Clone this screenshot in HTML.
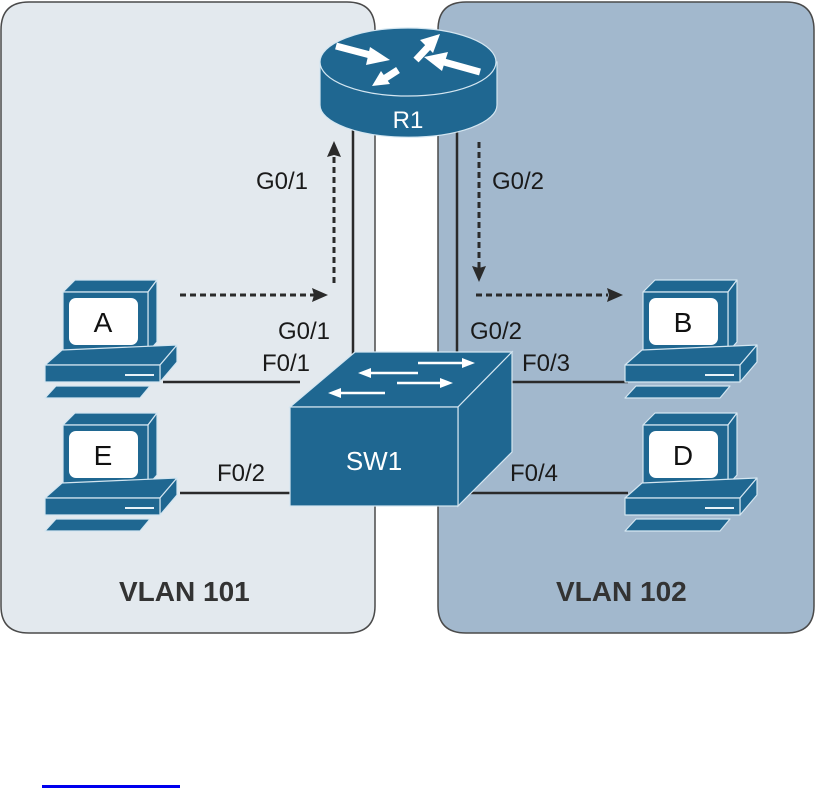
<!DOCTYPE html>
<html><head><meta charset="utf-8"><style>
html,body{margin:0;padding:0;background:#fff;}
svg{display:block;}
text{font-family:"Liberation Sans",sans-serif;}
</style></head><body>
<svg width="816" height="788" viewBox="0 0 816 788" xmlns="http://www.w3.org/2000/svg">
<defs>
<g id="pc" stroke="#d4e6f1" stroke-width="1.2" stroke-linejoin="round">
  <polygon points="63,292 75,280 157,280 148,292" fill="#1f6791"/>
  <polygon points="148,292 157,280 157,342 148,352" fill="#1f6791"/>
  <rect x="63" y="292" width="85" height="60" fill="#1f6791"/>
  <rect x="69" y="298" width="69" height="47" rx="7" fill="#fff" stroke="none"/>
  <polygon points="45,365 62,350 177,345 160,365" fill="#1f6791"/>
  <polygon points="160,365 177,345 177,362 160,382" fill="#1f6791"/>
  <rect x="45" y="365" width="115" height="17" fill="#1f6791"/>
  <line x1="125" y1="375" x2="154" y2="375" stroke="#e8f2f8" stroke-width="2"/>
  <polygon points="56,386 150,386 140,398 45,398" fill="#1f6791"/>
</g>
</defs>
<path d="M1,30 Q1,2 29,2 L347,2 Q375,2 375,30 L375,606 Q375,633 347,633 L29,633 Q1,633 1,606 Z" fill="#e3e9ee" stroke="#4a4a4a" stroke-width="1.5"/>
<path d="M438,30 Q438,2 466,2 L786,2 Q814,2 814,30 L814,606 Q814,633 786,633 L466,633 Q438,633 438,606 Z" fill="#a2b8cd" stroke="#4a4a4a" stroke-width="1.5"/>
<line x1="353" y1="120" x2="353" y2="360" stroke="#2a2a2a" stroke-width="2.5"/>
<line x1="457" y1="120" x2="457" y2="360" stroke="#2a2a2a" stroke-width="2.5"/>
<line x1="163" y1="382" x2="300" y2="382" stroke="#2a2a2a" stroke-width="2.5"/>
<line x1="180" y1="493" x2="300" y2="493" stroke="#2a2a2a" stroke-width="2.5"/>
<line x1="505" y1="382" x2="628" y2="382" stroke="#2a2a2a" stroke-width="2.5"/>
<line x1="460" y1="493" x2="628" y2="493" stroke="#2a2a2a" stroke-width="2.5"/>
<g stroke="#d4e6f1" stroke-width="1.2">
<path d="M320,62 L320,105 A88,32 0 0 0 497,105 L497,62 Z" fill="#1f6791"/>
<ellipse cx="408" cy="62" rx="88" ry="34" fill="#1f6791"/>
</g>
<g stroke="#fff" stroke-width="7" fill="none">
<line x1="336" y1="46" x2="374" y2="56"/>
<line x1="416" y1="60" x2="430" y2="45"/>
<line x1="480" y1="72" x2="444" y2="62"/>
<line x1="398" y1="70" x2="384" y2="79"/>
</g>
<g fill="#fff">
<polygon points="390,60 370,47 366,65"/>
<polygon points="440,34 420,40 433,53"/>
<polygon points="424,57 448,52 442,71"/>
<polygon points="372,86 381,71 390,84"/>
</g>
<text x="408" y="128" font-size="24" fill="#fff" text-anchor="middle">R1</text>
<g stroke="#d4e6f1" stroke-width="1.2" fill="#1f6791">
<polygon points="290,407 355,352 512,352 458,407"/>
<polygon points="458,407 512,352 512,452 458,506"/>
<rect x="290" y="407" width="168" height="99"/>
</g>
<g stroke="#fff" stroke-width="2.5" fill="#fff">
<line x1="418" y1="363" x2="465" y2="363"/><polygon points="475,363 462,358 462,368" stroke="none"/>
<line x1="418" y1="373" x2="368" y2="373"/><polygon points="358,373 371,368 371,378" stroke="none"/>
<line x1="397" y1="383" x2="443" y2="383"/><polygon points="453,383 440,378 440,388" stroke="none"/>
<line x1="385" y1="393" x2="338" y2="393"/><polygon points="328,393 341,388 341,398" stroke="none"/>
</g>
<text x="374" y="470" font-size="26" fill="#fff" text-anchor="middle">SW1</text>
<g stroke="#2a2a2a" stroke-width="3" stroke-dasharray="6,4" fill="none">
<line x1="180" y1="295" x2="316" y2="295"/>
<line x1="334" y1="283" x2="334" y2="155"/>
<line x1="479" y1="142" x2="479" y2="268"/>
<line x1="476" y1="295" x2="608" y2="295"/>
</g>
<g fill="#2a2a2a">
<polygon points="328,295 312,288 314,295 312,302"/>
<polygon points="334,141 327,157 334,155 341,157"/>
<polygon points="479,282 472,266 479,268 486,266"/>
<polygon points="623,295 607,288 609,295 607,302"/>
</g>
<use href="#pc"/>
<use href="#pc" transform="translate(0,133)"/>
<use href="#pc" transform="translate(580,0)"/>
<use href="#pc" transform="translate(580,133)"/>
<g font-size="28" fill="#111" text-anchor="middle">
<text x="103" y="332">A</text>
<text x="103" y="465">E</text>
<text x="683" y="332">B</text>
<text x="683" y="465">D</text>
</g>
<g font-size="24" fill="#1a1a1a">
<text x="256" y="189">G0/1</text>
<text x="492" y="189">G0/2</text>
<text x="278" y="339">G0/1</text>
<text x="262" y="371">F0/1</text>
<text x="470" y="339">G0/2</text>
<text x="522" y="371">F0/3</text>
<text x="217" y="481">F0/2</text>
<text x="510" y="481">F0/4</text>
</g>
<g font-size="28" font-weight="bold" fill="#333">
<text x="119" y="601">VLAN 101</text>
<text x="556" y="601">VLAN 102</text>
</g>
<rect x="42" y="785" width="138" height="3" fill="#0000ee"/>
</svg>
</body></html>
